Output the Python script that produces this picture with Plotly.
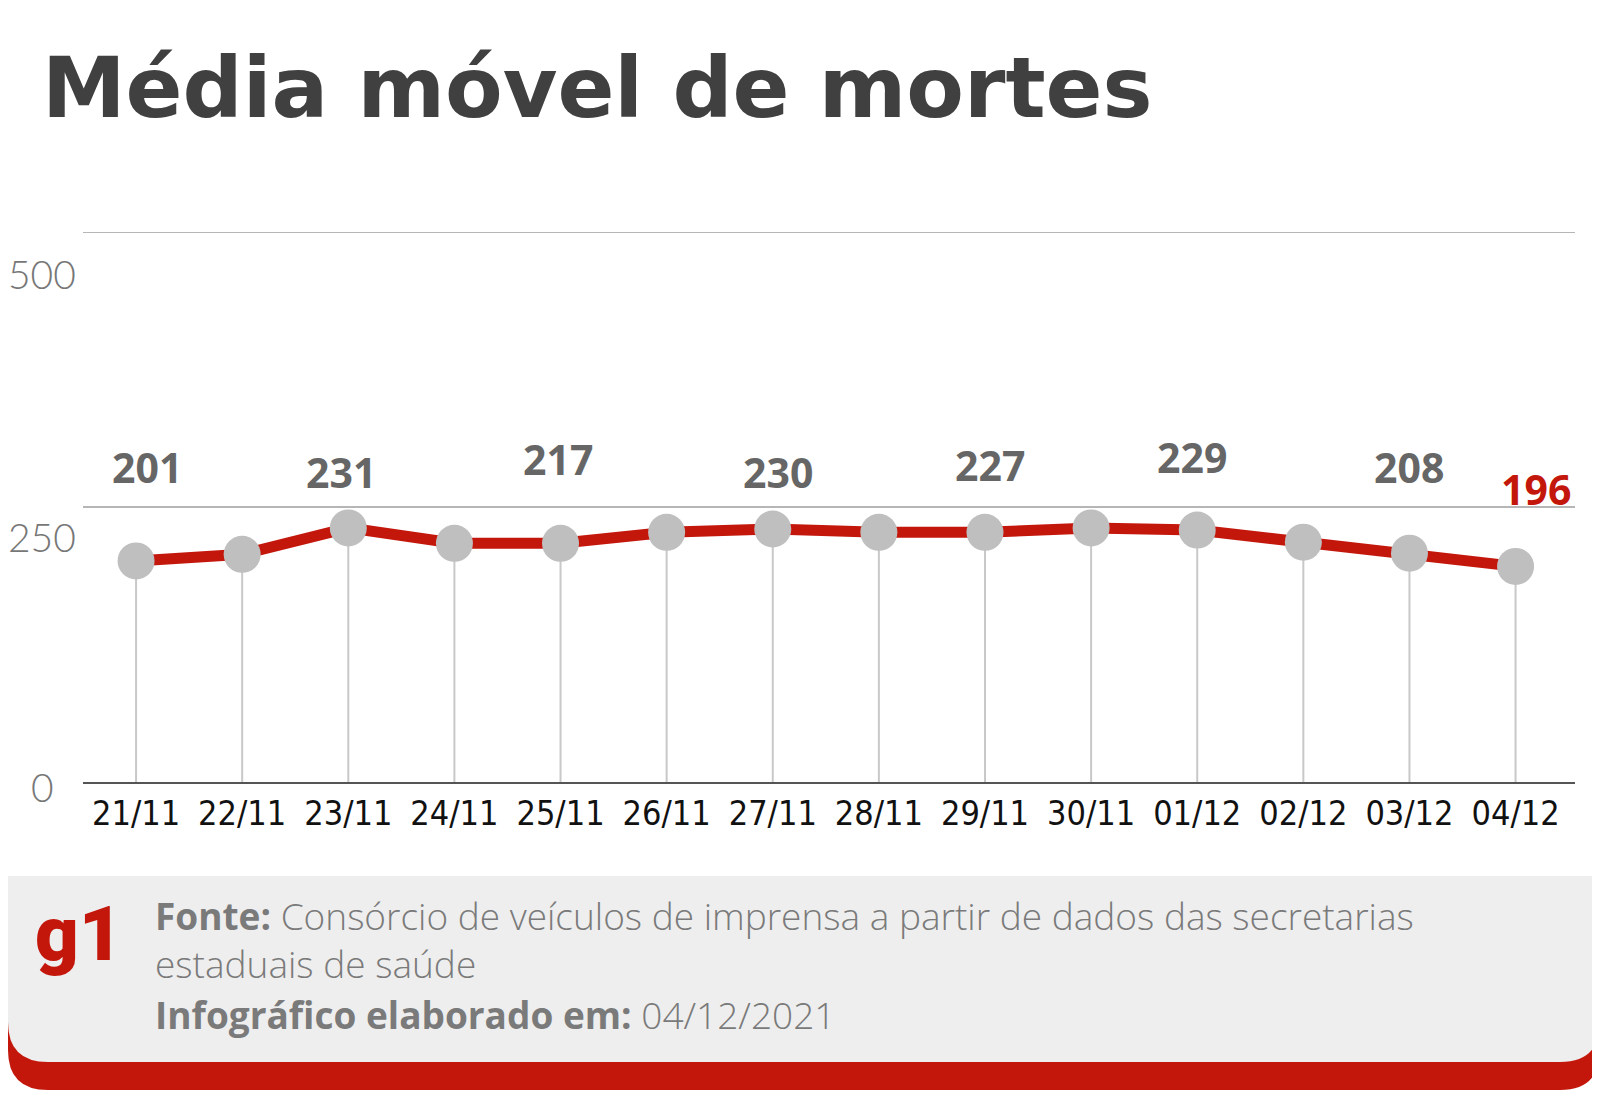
import plotly.graph_objects as go

# data
dates = ["21/11", "22/11", "23/11", "24/11", "25/11", "26/11", "27/11",
         "28/11", "29/11", "30/11", "01/12", "02/12", "03/12", "04/12"]
media_movel = [201, 207, 231, 217, 217, 227, 230, 227, 227, 231, 229, 218, 208, 196]
labelled = [0, 2, 4, 6, 8, 10, 12, 13]   # which days carry a number
y_ticks = [0, 250, 500]

title = "Média móvel de mortes"
fonte = "Consórcio de veículos de imprensa a partir de dados das secretarias<br>estaduais de saúde"
data_info = "04/12/2021"

RED = "#c4170c"
# the page body has an 8px margin, so the figure is a bit smaller than the window
OFF = 8
W, H = 1600 - OFF, 1106 - OFF
ML, MR, MT, MB = 75, 25, 224, 324
PW, PH = W - ML - MR, H - MT - MB


# helpers: window pixel -> paper coords
def px(x):
    return (x - OFF - ML) / PW


def py(y):
    return (H - MB - (y - OFF)) / PH


def footer_path(top, bottom, rad):
    l, r = OFF, 1600
    return (f"M {px(l)},{py(top)} L {px(r)},{py(top)} L {px(r)},{py(bottom - rad)} "
            f"Q {px(r)},{py(bottom)} {px(r - rad)},{py(bottom)} L {px(l + rad)},{py(bottom)} "
            f"Q {px(l)},{py(bottom)} {px(l)},{py(bottom - rad)} Z")


fig = go.Figure()

# grey drop lines down to the axis
drop_x, drop_y = [], []
for d, v in zip(dates, media_movel):
    drop_x += [d, d, None]
    drop_y += [v, 0, None]
fig.add_trace(go.Scatter(x=drop_x, y=drop_y, mode="lines",
                         line=dict(color="#c8c8c8", width=2), hoverinfo="skip"))

# red line + grey dots
fig.add_trace(go.Scatter(
    x=dates, y=media_movel, mode="lines+markers",
    line=dict(color=RED, width=11),
    marker=dict(color="#bfbfbf", size=37, line_width=0),
    cliponaxis=False,
))

shapes = [
    dict(type="path", xref="paper", yref="paper", path=footer_path(876, 1090, 40),
         fillcolor=RED, line_width=0, layer="below"),
    dict(type="path", xref="paper", yref="paper", path=footer_path(876, 1062, 40),
         fillcolor="#eeeeee", line_width=0, layer="below"),
]
for t in y_ticks[1:]:
    shapes.append(dict(type="line", xref="paper", x0=0, x1=1, yref="y", y0=t, y1=t,
                       line=dict(color="#6e6e6e", width=1.2), layer="below"))

annotations = []

# y tick labels sit a little under their gridlines
tick_shift = {0: -5, 250: -30, 500: -42}
for t in y_ticks:
    annotations.append(dict(
        x=px(42), xref="paper", y=t, yref="y", yshift=tick_shift[t],
        text=str(t), showarrow=False, xanchor="center", yanchor="middle",
        font=dict(family="Lato", size=39, color="#777777", weight=300)))

# value labels above the line
label_py = [467, 472, 459, 472, 465, 457, 467, 489]
label_dx = [11, -7, -3, 5, 5, -5, 0, 20]
for k, i in enumerate(labelled):
    last = i == len(dates) - 1
    annotations.append(dict(
        x=dates[i], xref="x", y=py(label_py[k]), yref="paper", xshift=label_dx[k],
        text=str(media_movel[i]), showarrow=False, xanchor="center", yanchor="middle",
        font=dict(family="Open Sans", size=41, weight=700,
                  color=RED if last else "#666666")))

# title
annotations.append(dict(
    x=px(40), y=py(88), xref="paper", yref="paper", text=title, showarrow=False,
    xanchor="left", yanchor="middle",
    font=dict(family="DejaVu Sans", size=84, weight=700, color="#404040")))

# footer
annotations.append(dict(
    x=px(79), y=py(934), xref="paper", yref="paper", text="g1", showarrow=False,
    xanchor="center", yanchor="middle",
    font=dict(family="Roboto", size=76, weight=900, color=RED)))
foot_font = dict(family="Open Sans", size=37, weight=300, color="#7a7a7a")
annotations.append(dict(
    x=px(153), y=py(939), xref="paper", yref="paper", text=f"<b>Fonte:</b> {fonte}",
    showarrow=False, xanchor="left", yanchor="middle", align="left", font=foot_font))
annotations.append(dict(
    x=px(153), y=py(1014), xref="paper", yref="paper",
    text=f"<b>Infográfico elaborado em:</b> {data_info}",
    showarrow=False, xanchor="left", yanchor="middle", align="left", font=foot_font))

fig.update_layout(
    width=W, height=H,
    margin=dict(l=ML, r=MR, t=MT, b=MB),
    paper_bgcolor="white", plot_bgcolor="white",
    showlegend=False,
    shapes=shapes, annotations=annotations,
    xaxis=dict(type="category", range=[-0.5, 13.56], showgrid=False, zeroline=False,
               showline=True, linecolor="#555555", linewidth=2, ticks="",
               tickfont=dict(family="Noto Sans Condensed, DejaVu Sans Condensed",
                             size=34, color="#111111")),
    yaxis=dict(range=[0, 500], visible=False, showgrid=False, zeroline=False),
)

fig.write_html("out.html")
